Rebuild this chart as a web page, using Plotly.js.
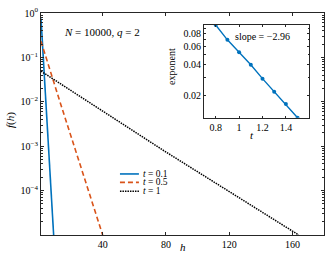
<!DOCTYPE html>
<html>
<head>
<meta charset="utf-8">
<script src="https://cdn.plot.ly/plotly-3.0.1.min.js"></script>
<style>html,body{margin:0;padding:0;background:#fff;}#chart{width:333px;height:257px;}</style>
</head>
<body>
<div id="chart"></div>
<script>
// Main plot data
const hBlue = [1, 4, 9];
const fBlue = [0.75, 0.011, 1.0e-5];
const hOrange = [1, 13, 40];
const fOrange = [0.23, 0.01, 1.0e-5];
const hBlack = [1, 79, 164];
const fBlack = [0.049, 7.8e-4, 1.0e-5];
const seriesNames = ['<i>t</i> = 0.1', '<i>t</i> = 0.5', '<i>t</i> = 1'];

// Inset data
const tInset = [0.8, 0.9, 1.0, 1.1, 1.2, 1.3, 1.4, 1.5];
const expInset = [0.0977, 0.070, 0.053, 0.040, 0.0292, 0.0217, 0.0165, 0.0121];

// Tick labels
const xTickVals = [40, 80, 120, 160];
const yTickVals = [1e-4, 1e-3, 1e-2, 1e-1, 1];
const yTickText = ['10<sup>−4</sup>', '10<sup>−3</sup>', '10<sup>−2</sup>', '10<sup>−1</sup>', '10<sup>0</sup>'];
const x2TickVals = [0.8, 1, 1.2, 1.4];
const x2TickText = ['0.8', '1', '1.2', '1.4'];
const y2TickVals = [0.02, 0.04, 0.06, 0.08];
const y2TickText = ['0.02', '0.04', '0.06', '0.08'];

const SERIF = 'Liberation Serif, Times New Roman, serif';
const AX = '#262626';
const BLUE = '#0072BD', ORANGE = '#D95319', BLACK = '#000000';
const colors = [BLUE, ORANGE, BLACK];
const dashes = ['solid', '5px,3px', '1.5px,1px'];
const widths = [1.6, 1.6, 1.5];

const traces = [
  {x: hBlue, y: fBlue, mode: 'lines', line: {color: BLUE, width: widths[0], dash: dashes[0]}, showlegend: false, xaxis: 'x', yaxis: 'y'},
  {x: hOrange, y: fOrange, mode: 'lines', line: {color: ORANGE, width: widths[1], dash: dashes[1]}, showlegend: false, xaxis: 'x', yaxis: 'y'},
  {x: hBlack, y: fBlack, mode: 'lines', line: {color: BLACK, width: widths[2], dash: dashes[2]}, showlegend: false, xaxis: 'x', yaxis: 'y'},
  {x: tInset, y: expInset, mode: 'lines+markers', line: {color: BLUE, width: 1.4}, marker: {color: BLUE, size: 4}, showlegend: false, xaxis: 'x2', yaxis: 'y2'}
];

const axBase = {showline: true, linecolor: AX, linewidth: 1, mirror: 'ticks', ticks: 'inside', tickcolor: AX,
  showgrid: false, zeroline: false, tickfont: {family: SERIF, size: 10, color: '#000'}};

// manual legend
const legY = [0.275, 0.237, 0.197];
const shapes = [
  {type: 'rect', xref: 'x2 domain', yref: 'y2 domain', x0: 0, x1: 1, y0: 0, y1: 1, fillcolor: '#fff', line: {width: 0}, layer: 'below'}
];
const annotations = [];
for (let i = 0; i < 3; i++) {
  shapes.push({type: 'line', xref: 'paper', yref: 'paper', x0: 0.279, x1: 0.346, y0: legY[i], y1: legY[i],
    line: {color: colors[i], width: widths[i], dash: dashes[i]}});
  annotations.push({xref: 'paper', yref: 'paper', x: 0.352, y: legY[i], xanchor: 'left', yanchor: 'middle',
    text: seriesNames[i], showarrow: false, font: {family: SERIF, size: 9.5, color: '#000'}});
}
annotations.push(
  {xref: 'paper', yref: 'paper', x: 0.2138, y: 0.916, xanchor: 'center', yanchor: 'middle', showarrow: false,
   text: '<i>N</i> = 10000, <i>q</i> = 2', font: {family: SERIF, size: 11, color: '#000'}},
  {xref: 'paper', yref: 'paper', x: 0.781, y: 0.893, xanchor: 'center', yanchor: 'middle', showarrow: false,
   text: 'slope = −2.96', font: {family: SERIF, size: 10, color: '#000'}},
  {xref: 'paper', yref: 'paper', x: 0.502, y: -0.054, xanchor: 'center', yanchor: 'middle', showarrow: false,
   text: '<i>h</i>', font: {family: SERIF, size: 11, color: '#000'}},
  {xref: 'paper', yref: 'paper', x: -0.1095, y: 0.518, xanchor: 'center', yanchor: 'middle', showarrow: false, textangle: -90,
   text: '<i>f</i>(<i>h</i>)', font: {family: SERIF, size: 11, color: '#000'}},
  {xref: 'paper', yref: 'paper', x: 0.463, y: 0.757, xanchor: 'center', yanchor: 'middle', showarrow: false, textangle: -90,
   text: 'exponent', font: {family: SERIF, size: 10, color: '#000'}},
  {xref: 'paper', yref: 'paper', x: 0.7456, y: 0.45, xanchor: 'center', yanchor: 'middle', showarrow: false,
   text: '<i>t</i>', font: {family: SERIF, size: 11, color: '#000'}}
);

const layout = {
  width: 333, height: 257,
  margin: {l: 41, r: 9, t: 13, b: 22},
  paper_bgcolor: '#fff', plot_bgcolor: '#fff',
  showlegend: false,
  xaxis: Object.assign({}, axBase, {domain: [0, 1], range: [1, 180], tickmode: 'array', tickvals: xTickVals, ticklen: 3}),
  yaxis: Object.assign({}, axBase, {domain: [0, 1], type: 'log', range: [-5, 0], tickmode: 'array', tickvals: yTickVals, ticktext: yTickText, ticklen: 3,
    minor: {ticks: 'inside', ticklen: 2, dtick: 'D1', tickcolor: AX, showgrid: false}}),
  xaxis2: Object.assign({}, axBase, {anchor: 'y2', domain: [0.576, 0.948], range: [0.7, 1.6], tickmode: 'array', tickvals: x2TickVals, ticktext: x2TickText, ticklen: 2}),
  yaxis2: Object.assign({}, axBase, {anchor: 'x2', domain: [0.528, 0.946], type: 'log', range: [-1.917, -1.01], tickmode: 'array', tickvals: y2TickVals, ticktext: y2TickText, ticklen: 2,
    minor: {ticks: 'inside', ticklen: 1.5, dtick: 'D1', tickcolor: AX, showgrid: false}}),
  shapes: shapes,
  annotations: annotations
};

Plotly.newPlot('chart', traces, layout, {staticPlot: true, displayModeBar: false});
</script>
</body>
</html>
